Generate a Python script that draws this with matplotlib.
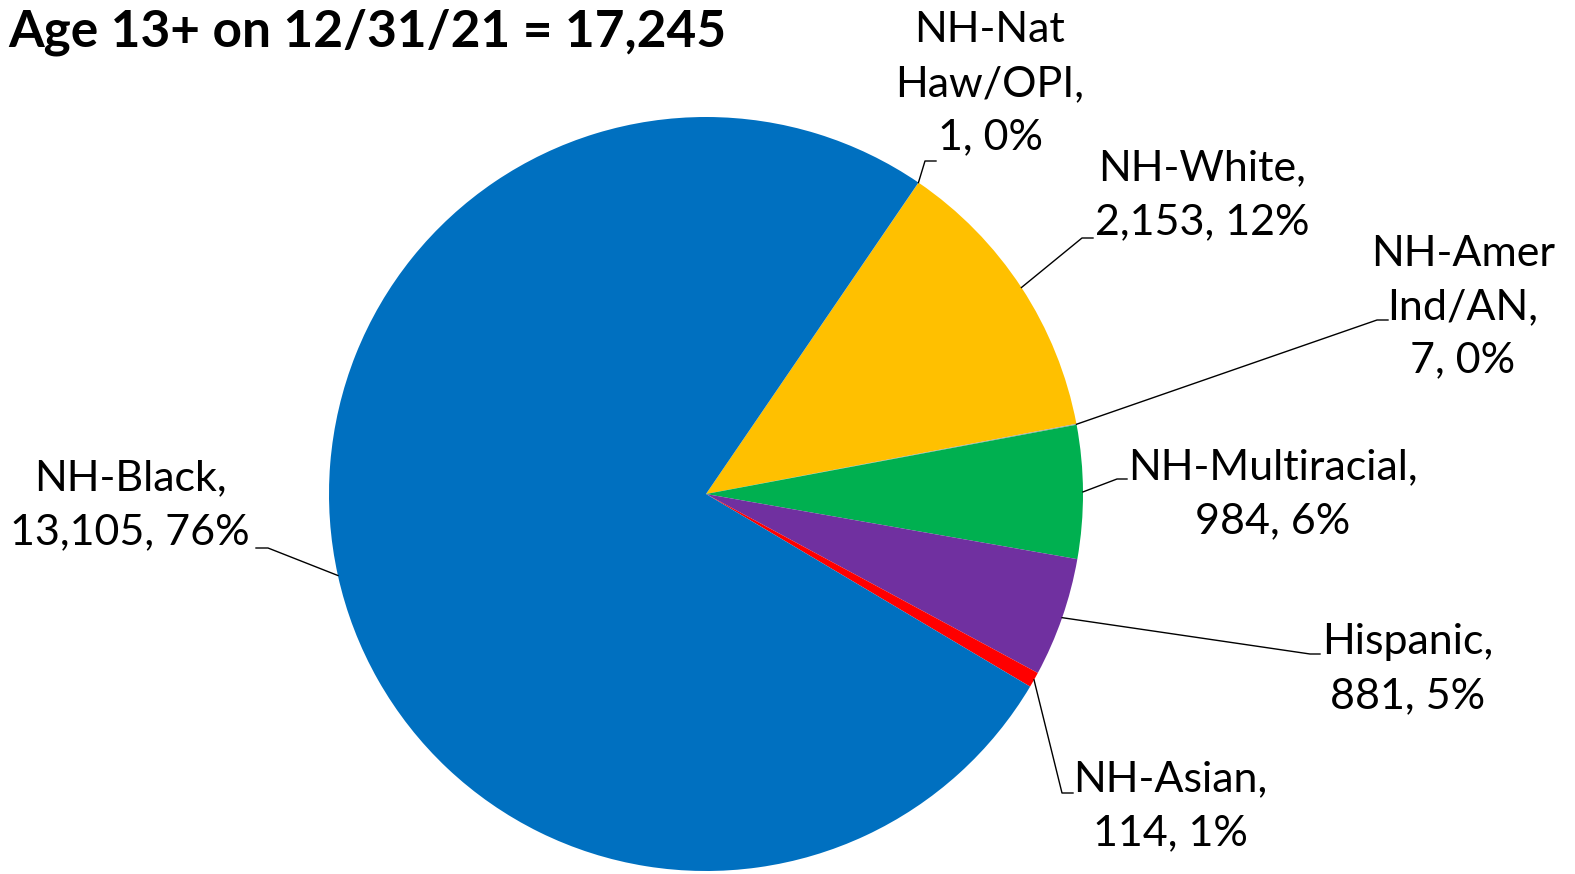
import numpy as np
import matplotlib
matplotlib.use("Agg")
import matplotlib.pyplot as plt

plt.rcParams['font.family'] = ['Lato', 'DejaVu Sans']

# data, clockwise from the top slice boundary
categories = ['NH-Nat\nHaw/OPI', 'NH-White', 'NH-Amer\nInd/AN', 'NH-Multiracial',
              'Hispanic', 'NH-Asian', 'NH-Black']
counts = [1, 2153, 7, 984, 881, 114, 13105]
colors = ['#4472C4', '#FFC000', '#A5A5A5', '#00B050', '#7030A0', '#FF0000', '#0070C0']
title = 'Age 13+ on 12/31/21 = 17,245'

W, H = 1575, 874
fig = plt.figure(figsize=(W / 100, H / 100), dpi=100)
ax = fig.add_axes([0, 0, 1, 1])

cx, cy, r = 706, H - 494, 377
wedges, _ = ax.pie(counts, colors=colors, startangle=55.7, counterclock=False,
                   center=(cx, cy), radius=r, frame=True)
ax.set_xlim(0, W)
ax.set_ylim(0, H)
ax.set_aspect('equal')
ax.axis('off')

total = sum(counts)

# label layout: text block centre, elbow point, end of the short tick (pixels from top-left)
layout = {
    'NH-Nat\nHaw/OPI': ((990, 84), (925, 161), (936, 161)),
    'NH-White': ((1202, 195), (1082, 238), (1093, 238)),
    'NH-Amer\nInd/AN': ((1463, 307), (1377, 320), (1388, 320)),
    'NH-Multiracial': ((1273, 494), (1117, 479), (1127, 479)),
    'Hispanic': ((1408, 669), (1310, 654), (1320, 654)),
    'NH-Asian': ((1170, 806), (1062, 793), (1073, 793)),
    'NH-Black': ((130, 505), (268, 548), (256, 548)),
}

for w, cat, v in zip(wedges, categories, counts):
    pct = round(v / total * 100)
    txt = f'{cat},\n{v:,}, {pct}%'
    (tx, ty), (ex, ey), (hx, hy) = layout[cat]
    ax.text(tx, H - ty, txt, ha='center', va='center', fontsize=31,
            linespacing=1.5, color='black')
    if cat == 'NH-Nat\nHaw/OPI':
        ang = np.deg2rad(w.theta2)
    else:
        ang = np.deg2rad((w.theta1 + w.theta2) / 2)
    sx, sy = cx + r * np.cos(ang), cy + r * np.sin(ang)
    ax.plot([sx, ex, hx], [sy, H - ey, H - hy], color='black', lw=1)

ax.text(8, H - 32, title, ha='left', va='center', fontsize=37, fontweight='bold')

fig.savefig('out.png', dpi=100)
